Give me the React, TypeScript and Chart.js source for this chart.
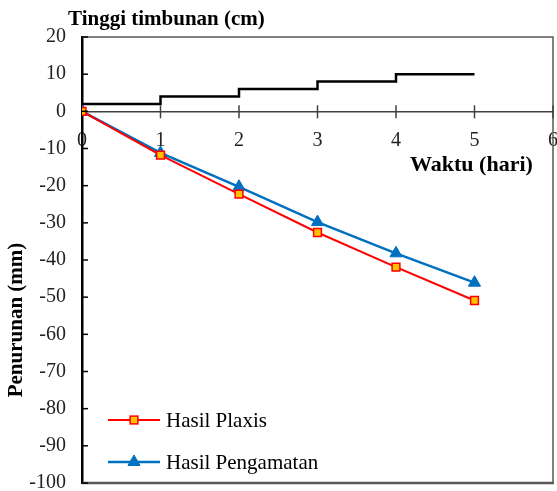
import React, { useEffect, useRef } from "react";
import { Chart, registerables } from "chart.js";

Chart.register(...registerables);

const days = [0, 1, 2, 3, 4, 5];
const fillHeight = [2, 4, 6, 8, 10, 10];
const plaxis = [0, -11.8, -22.3, -32.6, -41.9, -50.9];
const observed = [0, -11.2, -20.3, -29.8, -38.2, -46.1];

const xTitle = "Waktu (hari)";
const yTitle = "Penurunan (mm)";
const topTitle = "Tinggi timbunan (cm)";
const labelPlaxis = "Hasil Plaxis";
const labelObserved = "Hasil Pengamatan";

const FONT = "'Liberation Serif', 'Times New Roman', serif";

const framePlugin = {
  id: "frame",
  afterDatasetsDraw(chart: any) {
    const { ctx, chartArea } = chart;
    const xs = chart.scales.x;
    const ys = chart.scales.y;
    const { left, right, top, bottom } = chartArea;
    ctx.save();
    ctx.strokeStyle = "#595959";
    ctx.lineWidth = 1.5;
    ctx.beginPath();
    ctx.moveTo(left, top);
    ctx.lineTo(right, top);
    ctx.lineTo(right, bottom);
    ctx.stroke();
    ctx.lineWidth = 2.5;
    ctx.beginPath();
    ctx.moveTo(left, bottom);
    ctx.lineTo(right + 1, bottom);
    ctx.stroke();
    ctx.strokeStyle = "#000";
    ctx.lineWidth = 1.5;
    ys.ticks.forEach((t: any) => {
      const y = ys.getPixelForValue(t.value);
      ctx.beginPath();
      ctx.moveTo(left, y);
      ctx.lineTo(left + 6, y);
      ctx.stroke();
    });
    const y0 = ys.getPixelForValue(0);
    ctx.strokeStyle = "#404040";
    xs.ticks.forEach((t: any) => {
      const x = xs.getPixelForValue(t.value);
      if (t.value === 0) return;
      ctx.beginPath();
      ctx.moveTo(x, y0 - 6);
      ctx.lineTo(x, y0 + 7);
      ctx.stroke();
    });
    ctx.fillStyle = "#000";
    ctx.font = `bold 21px ${FONT}`;
    ctx.textAlign = "left";
    ctx.textBaseline = "alphabetic";
    ctx.fillText(topTitle, 68, 25);
    ctx.font = `bold 22px ${FONT}`;
    ctx.fillText(xTitle, 410, 171);
    ctx.font = `bold 21px ${FONT}`;
    ctx.translate(17, 320);
    ctx.rotate(-Math.PI / 2);
    ctx.textAlign = "center";
    ctx.textBaseline = "middle";
    ctx.fillText(yTitle, 0, 0);
    ctx.restore();

    ctx.save();
    const items = [chart.data.datasets[1], chart.data.datasets[2]];
    const ly = [420, 462];
    items.forEach((ds: any, i: number) => {
      const y = ly[i];
      ctx.strokeStyle = ds.borderColor;
      ctx.lineWidth = ds.borderWidth;
      ctx.beginPath();
      ctx.moveTo(108, y);
      ctx.lineTo(160, y);
      ctx.stroke();
      ctx.fillStyle = ds.pointBackgroundColor;
      ctx.strokeStyle = ds.pointBorderColor;
      ctx.lineWidth = ds.pointBorderWidth;
      if (ds.pointStyle === "rect") {
        const s = ds.pointRadius * 1.414;
        ctx.fillRect(134 - s / 2, y - s / 2, s, s);
        ctx.strokeRect(134 - s / 2, y - s / 2, s, s);
      } else {
        const r = ds.pointRadius;
        ctx.beginPath();
        ctx.moveTo(134, y - r);
        ctx.lineTo(134 + r * 0.866, y + r / 2);
        ctx.lineTo(134 - r * 0.866, y + r / 2);
        ctx.closePath();
        ctx.fill();
        ctx.stroke();
      }
      ctx.fillStyle = "#000";
      ctx.font = `21px ${FONT}`;
      ctx.textAlign = "left";
      ctx.textBaseline = "middle";
      ctx.fillText(ds.label, 166, y + 1);
    });
    ctx.restore();
  },
};

export default function App() {
  const ref = useRef<HTMLCanvasElement>(null);
  useEffect(() => {
    if (!ref.current) return;
    const chart = new Chart(ref.current, {
      type: "line",
      data: {
        datasets: [
          {
            label: "Tinggi timbunan",
            data: days.map((d, i) => ({ x: d, y: fillHeight[i] })),
            borderColor: "#000",
            borderWidth: 2.5,
            stepped: "before",
            pointRadius: 0,
            fill: false,
          },
          {
            label: labelPlaxis,
            data: days.map((d, i) => ({ x: d, y: plaxis[i] })),
            borderColor: "#FF0000",
            borderWidth: 2,
            pointStyle: "rect",
            pointRadius: 5.5,
            pointBackgroundColor: "#FFC000",
            pointBorderColor: "#FF0000",
            pointBorderWidth: 1.5,
            fill: false,
          },
          {
            label: labelObserved,
            data: days.map((d, i) => ({ x: d, y: observed[i] })),
            borderColor: "#0070C0",
            borderWidth: 2.5,
            pointStyle: "triangle",
            pointRadius: 7,
            pointBackgroundColor: "#0070C0",
            pointBorderColor: "#0070C0",
            pointBorderWidth: 1,
            fill: false,
          },
        ],
      },
      options: {
        animation: false,
        responsive: true,
        maintainAspectRatio: false,
        layout: { autoPadding: false, padding: { left: 0, top: 37, right: 4, bottom: 8 } },
        plugins: { legend: { display: false }, tooltip: { enabled: false } },
        scales: {
          x: {
            type: "linear",
            min: 0,
            max: 6,
            position: { y: 0 },
            ticks: {
              stepSize: 1,
              color: "#222",
              font: { family: FONT, size: 20 },
              padding: 17,
              maxRotation: 0,
            },
            grid: { drawOnChartArea: false, drawTicks: false },
            border: { display: true, color: "#404040", width: 1.5 },
            afterFit: (s: any) => {
              s.height = 0;
              s.paddingLeft = 0;
              s.paddingRight = 0;
              s.paddingTop = 0;
              s.paddingBottom = 0;
            },
          },
          y: {
            type: "linear",
            min: -100,
            max: 20,
            ticks: {
              stepSize: 10,
              color: "#222",
              font: { family: FONT, size: 20 },
              padding: 16,
            },
            grid: { drawOnChartArea: false, drawTicks: false },
            border: { display: true, color: "#000", width: 2.5 },
            afterFit: (s: any) => {
              s.width = 82;
              s.paddingTop = 0;
              s.paddingBottom = 0;
            },
          },
        },
      },
      plugins: [framePlugin],
    } as any);
    return () => chart.destroy();
  }, []);
  return (
    <div style={{ position: "fixed", left: 0, top: 0, width: 557, height: 491, background: "#fff" }}>
      <canvas ref={ref} />
    </div>
  );
}
